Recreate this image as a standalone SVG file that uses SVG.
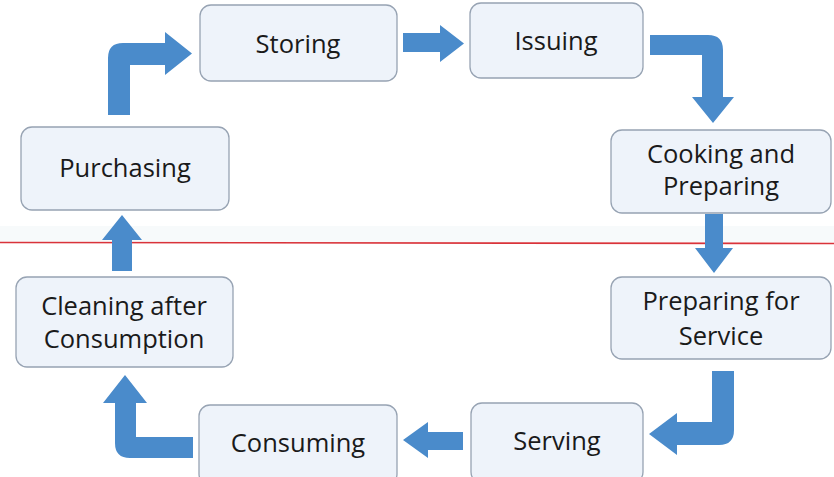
<svg xmlns="http://www.w3.org/2000/svg" width="834" height="477" viewBox="0 0 834 477">
<style>
.box{fill:#eef3fa;stroke:#97a3b3;stroke-width:1.3}
.lbl{font-family:"Open Sans","Noto Sans",sans-serif;font-size:25.5px;fill:#1a1a1a;text-anchor:middle}
.arr{fill:#4a8bcb}
</style>
<rect width="834" height="477" fill="#ffffff"/>
<rect x="0" y="226" width="834" height="16" fill="#f7fafb"/>
<line x1="0" y1="242.5" x2="834" y2="243.5" stroke="#d9333a" stroke-width="1.6"/>
<g id="connectors">
<path class="arr" d="M108,115 V58 Q108,43 123,43 H165 V32 L192,53.5 L165,75 V65 H130 V115 Z"/>
<path class="arr" d="M403,33 H440 V25 L464,43.5 L440,62 V52 H403 Z"/>
<path class="arr" d="M650,35 H708 Q723,35 723,50 V97 H734 L713,123 L692,97 H702 V55 H650 Z"/>
<path class="arr" d="M705,214 V248 H695 L714,273 L733,248 H723 V214 Z"/>
<path class="arr" d="M712,371 H734 V430 Q734,445 719,445 H677 V455 L649,434 L677,413 V422 H712 Z"/>
<path class="arr" d="M463,432 V450 H428 V458 L403,440 L428,422 V432 Z"/>
<path class="arr" d="M193,437 V458 H130 Q115,458 115,443 V403 H103 L125,375 L147,403 H136 V437 Z"/>
<path class="arr" d="M112,271 V240 H102 L122,215 L142,240 H132 V271 Z"/>
</g>
<g id="storing"><rect class="box" x="200" y="5" width="197" height="76" rx="11"/><text class="lbl" x="298" y="53">Storing</text></g>
<g id="issuing"><rect class="box" x="470" y="3" width="173" height="75" rx="11"/><text class="lbl" x="556" y="50">Issuing</text></g>
<g id="purchasing"><rect class="box" x="21" y="127" width="208" height="83" rx="11"/><text class="lbl" x="125" y="177">Purchasing</text></g>
<g id="cooking"><rect class="box" x="611" y="130" width="220" height="83" rx="11"/><text class="lbl" x="721" y="163">Cooking and</text><text class="lbl" x="721" y="195">Preparing</text></g>
<g id="preparing-service"><rect class="box" x="611" y="277" width="220" height="82" rx="11"/><text class="lbl" x="721" y="310">Preparing for</text><text class="lbl" x="721" y="345">Service</text></g>
<g id="cleaning"><rect class="box" x="16" y="277" width="217" height="90" rx="11"/><text class="lbl" x="124" y="315">Cleaning after</text><text class="lbl" x="124" y="348">Consumption</text></g>
<g id="serving"><rect class="box" x="471" y="403" width="172" height="80" rx="11"/><text class="lbl" x="557" y="450">Serving</text></g>
<g id="consuming"><rect class="box" x="199" y="405" width="198" height="80" rx="11"/><text class="lbl" x="298" y="452">Consuming</text></g>
</svg>
